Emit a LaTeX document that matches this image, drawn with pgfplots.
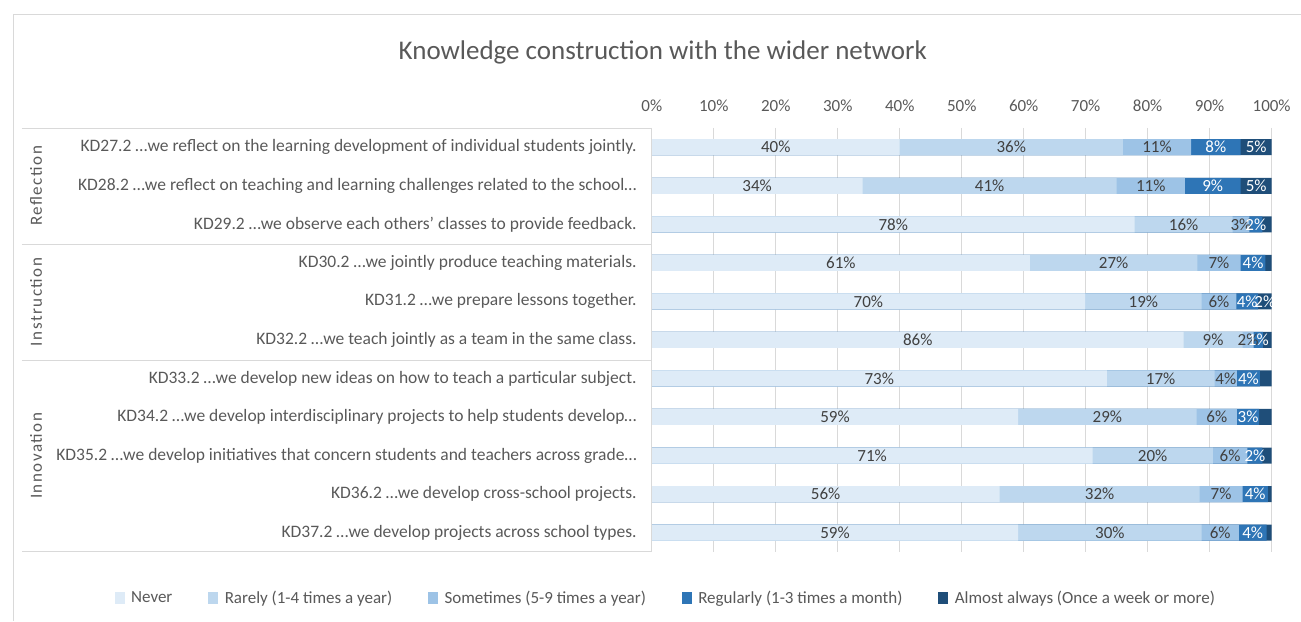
\documentclass[border=0pt]{standalone}
\usepackage{fontspec}
\setmainfont{Carlito}
\usepackage{pgfplots}
\usepackage{pgfplotstable}
\pgfplotsset{compat=1.18}
\definecolor{cA}{HTML}{DEEBF7}
\definecolor{cB}{HTML}{BDD7EE}
\definecolor{cC}{HTML}{9DC3E6}
\definecolor{cD}{HTML}{2E75B6}
\definecolor{cE}{HTML}{1F4E79}
\definecolor{txt}{HTML}{595959}
\definecolor{lbl}{HTML}{404040}
\definecolor{grd}{HTML}{D9D9D9}
\newcommand\tickfont{\fontsize{17}{20}\selectfont}
\newcommand\rowfont{\fontsize{17.5}{20}\selectfont}
\newcommand\lblfont{\fontsize{17}{20}\selectfont}

\pgfplotstableread{
row a b c d e la lb lc ld
0 40 36 11 8 5 40 36 11 8
1 34 41 11 9 5 34 41 11 9
2 77.9 15.8 2.7 2.1 1.5 78 16 3 2
3 61 27 7 4 1 61 27 7 4
4 69.9 18.8 5.6 3.5 2.2 70 19 6 4
5 85.8 9.5 1.8 1.5 1.4 86 9 2 1
6 73.4 17.4 3.6 3.7 1.9 73 17 4 4
7 59.1 28.8 6.5 3.6 2.0 59 29 6 3
8 71.1 19.4 5.6 2.4 1.5 71 20 6 2
9 56.1 32.3 6.9 4.1 0.6 56 32 7 4
10 59.1 29.6 6.0 4.5 0.8 59 30 6 4
}\data

\pgfplotstableread{
row s e le
0 95 5 5
1 95 5 5
4 97.8 2.2 2
}\edata

\pgfplotsset{sq/.style={legend image code/.code={\fill[#1] (0pt,-5.5pt) rectangle (9pt,5.5pt);}}}

\begin{document}
\begin{tikzpicture}
\begin{axis}[
  at={(0pt,0pt)}, anchor=south west,
  scale only axis, width=620pt, height=424pt,
  xmin=0, xmax=100, ymin=-0.5, ymax=10.5, y dir=reverse,
  clip=false,
  axis line style={draw=none},
  major tick length=0pt,
  xtick={0,10,...,100},
  xticklabels={0\%,10\%,20\%,30\%,40\%,50\%,60\%,70\%,80\%,90\%,100\%},
  xticklabel pos=right,
  xticklabel style={font=\tickfont, text=txt, inner sep=0pt, yshift=16pt},
  xmajorgrids, grid style={grd, line width=0.75pt},
  ytick={0,...,10},
  yticklabels={
    {KD27.2 …we reflect on the learning development of individual students jointly.},
    {KD28.2 …we reflect on teaching and learning challenges related to the school…},
    {KD29.2 …we observe each others’ classes to provide feedback.},
    {KD30.2 …we jointly produce teaching materials.},
    {KD31.2 …we prepare lessons together.},
    {KD32.2 …we teach jointly as a team in the same class.},
    {KD33.2 …we develop new ideas on how to teach a particular subject.},
    {KD34.2 …we develop interdisciplinary projects to help students develop…},
    {KD35.2 …we develop initiatives that concern students and teachers across grade…},
    {KD36.2 …we develop cross-school projects.},
    {KD37.2 …we develop projects across school types.}},
  yticklabel style={font=\rowfont, text=txt, anchor=east, inner sep=0pt, xshift=-15pt},
  title={Knowledge construction with the wider network},
  title style={at={(0.0177,1.163)}, anchor=center, font=\fontsize{27}{30}\selectfont, text=txt},
  legend columns=5,
  legend style={at={(0.0226,-0.1085)}, anchor=center, draw=none, font=\tickfont, text=txt,
    /tikz/every odd column/.append style={column sep=5pt},
    /tikz/every even column/.append style={column sep=34pt}},
]
\addlegendimage{sq=cA}\addlegendentry{Never}
\addlegendimage{sq=cB}\addlegendentry{Rarely (1-4 times a year)}
\addlegendimage{sq=cC}\addlegendentry{Sometimes (5-9 times a year)}
\addlegendimage{sq=cD}\addlegendentry{Regularly (1-3 times a month)}
\addlegendimage{sq=cE}\addlegendentry{Almost always (Once a week or more)}

\addplot[xbar, bar width=16pt, bar shift=0pt, fill=cE, draw=none, forget plot]
  table[x expr=\thisrow{a}+\thisrow{b}+\thisrow{c}+\thisrow{d}+\thisrow{e}, y=row]{\data};
\addplot[xbar, bar width=16pt, bar shift=0pt, fill=cD, draw=none, forget plot]
  table[x expr=\thisrow{a}+\thisrow{b}+\thisrow{c}+\thisrow{d}, y=row]{\data};
\addplot[xbar, bar width=16pt, bar shift=0pt, fill=cC, draw=none, forget plot]
  table[x expr=\thisrow{a}+\thisrow{b}+\thisrow{c}, y=row]{\data};
\addplot[xbar, bar width=16pt, bar shift=0pt, fill=cB, draw=none, forget plot]
  table[x expr=\thisrow{a}+\thisrow{b}, y=row]{\data};
\addplot[xbar, bar width=16pt, bar shift=0pt, fill=cA, draw=none, forget plot]
  table[x=a, y=row]{\data};

\addplot[forget plot, draw=none, mark=none, point meta=explicit symbolic,
  nodes near coords={\pgfplotspointmeta\%},
  every node near coord/.append style={anchor=center, font=\lblfont, text=lbl, inner sep=0pt}]
  table[x expr=\thisrow{a}/2, y=row, meta=la]{\data};
\addplot[forget plot, draw=none, mark=none, point meta=explicit symbolic,
  nodes near coords={\pgfplotspointmeta\%},
  every node near coord/.append style={anchor=center, font=\lblfont, text=lbl, inner sep=0pt}]
  table[x expr=\thisrow{a}+\thisrow{b}/2, y=row, meta=lb]{\data};
\addplot[forget plot, draw=none, mark=none, point meta=explicit symbolic,
  nodes near coords={\pgfplotspointmeta\%},
  every node near coord/.append style={anchor=center, font=\lblfont, text=lbl, inner sep=0pt}]
  table[x expr=\thisrow{a}+\thisrow{b}+\thisrow{c}/2, y=row, meta=lc]{\data};
\addplot[forget plot, draw=none, mark=none, point meta=explicit symbolic,
  nodes near coords={\pgfplotspointmeta\%},
  every node near coord/.append style={anchor=center, font=\lblfont, text=white, inner sep=0pt}]
  table[x expr=\thisrow{a}+\thisrow{b}+\thisrow{c}+\thisrow{d}/2, y=row, meta=ld]{\data};
\addplot[forget plot, draw=none, mark=none, point meta=explicit symbolic,
  nodes near coords={\pgfplotspointmeta\%},
  every node near coord/.append style={anchor=center, font=\lblfont, text=white, inner sep=0pt}]
  table[x expr=\thisrow{s}+\thisrow{e}/2, y=row, meta=le]{\edata};
\end{axis}
% category grouping box and outer frame
\draw[grd, line width=0.75pt] (-630pt,424pt) -- (0pt,424pt) -- (0pt,0pt) -- (-630pt,0pt);
\draw[grd, line width=0.75pt] (-630pt,308pt) -- (0pt,308pt);
\draw[grd, line width=0.75pt] (-630pt,192pt) -- (0pt,192pt);
\draw[grd, line width=0.75pt] (-639pt,-69pt) -- (-639pt,538pt) -- (649pt,538pt);
\begin{scope}[every node/.style={rotate=90, text=txt, font=\fontsize{17}{20}\selectfont\addfontfeature{LetterSpace=9}}]
\node at (-616pt,366pt) {Reflection};
\node at (-616pt,250pt) {Instruction};
\node at (-616pt,96pt) {Innovation};
\end{scope}
\path[use as bounding box] (-652pt,-69pt) rectangle (649pt,552pt);
\end{tikzpicture}
\end{document}
